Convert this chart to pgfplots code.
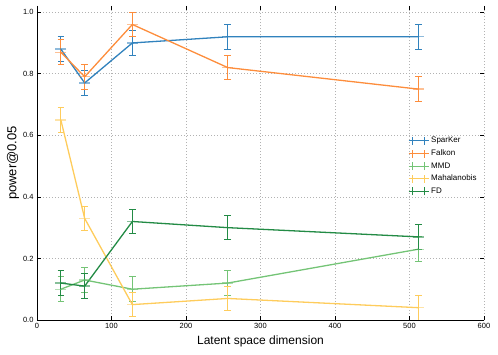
\documentclass[border=0pt]{standalone}
\usepackage{fontspec}
\setmainfont{Liberation Sans}
\usepackage{pgfplots}
\pgfplotsset{compat=1.18}
\definecolor{cSp}{RGB}{49,130,189}
\definecolor{cFa}{RGB}{253,141,60}
\definecolor{cMM}{RGB}{116,196,118}
\definecolor{cMa}{RGB}{254,204,92}
\definecolor{cFD}{RGB}{35,139,69}
\pgfplotsset{
  eb/.style={color=#1, line width=1.3pt, mark=-, mark size=5.5pt, mark options={solid, opacity=0.55},
    error bars/y dir=both, error bars/y explicit,
    error bars/error bar style={line width=1pt},
    error bars/error mark options={rotate=90, mark size=3.3pt, line width=1pt},
    legend image code/.code={
      \draw[color=#1, line width=1.3pt] (0pt,0pt) -- (20pt,0pt);
      \draw[color=#1, line width=1pt] (4pt,-4pt) -- (4pt,4pt);
      \draw[color=#1, line width=1pt] (16pt,-4pt) -- (16pt,4pt);
    }},
}
\begin{document}
\begin{tikzpicture}
\useasboundingbox (-37pt,-34pt) rectangle (461pt,320pt);
\begin{axis}[
  at={(0,0)}, anchor=south west,
  scale only axis, width=447pt, height=314pt,
  xmin=0, xmax=600, ymin=0, ymax=1.02,
  xtick={0,100,...,600}, ytick={0,0.2,0.4,0.6,0.8,1.0},
  yticklabel style={/pgf/number format/.cd,fixed,fixed zerofill,precision=1},
  xticklabel style={/pgf/number format/.cd,fixed,precision=0},
  /pgf/number format/assume math mode=true,
  ticklabel style={font=\fontsize{7.5}{9}\selectfont},
  grid=major, grid style={gray!60, line width=0.6pt, dash pattern=on 0.8pt off 2.2pt},
  tick style={black, line width=0.6pt}, major tick length=4pt,
  axis line style={draw=none},
  xlabel={Latent space dimension}, ylabel={power@0.05},
  xlabel style={font=\fontsize{12}{14}\selectfont},
  ylabel style={font=\fontsize{13}{15}\selectfont, yshift=-3pt},
  legend style={at={(0.995,0.49)}, anchor=east, draw=none, fill=none,
    font=\fontsize{8}{9}\selectfont, row sep=1.5pt},
  legend cell align=left,
]
\addplot[eb=cSp] coordinates {(32,0.88) +- (0,0.04) (64,0.77) +- (0,0.04) (128,0.90) +- (0,0.04) (256,0.92) +- (0,0.04) (512,0.92) +- (0,0.04)};
\addlegendentry{SparKer}
\addplot[eb=cFa] coordinates {(32,0.87) +- (0,0.04) (64,0.79) +- (0,0.04) (128,0.96) +- (0,0.04) (256,0.82) +- (0,0.04) (512,0.75) +- (0,0.04)};
\addlegendentry{Falkon}
\addplot[eb=cMM] coordinates {(32,0.10) +- (0,0.04) (64,0.13) +- (0,0.04) (128,0.10) +- (0,0.04) (256,0.12) +- (0,0.04) (512,0.23) +- (0,0.04)};
\addlegendentry{MMD}
\addplot[eb=cMa] coordinates {(32,0.65) +- (0,0.04) (64,0.33) +- (0,0.04) (128,0.05) +- (0,0.04) (256,0.07) +- (0,0.04) (512,0.04) +- (0,0.04)};
\addlegendentry{Mahalanobis}
\addplot[eb=cFD] coordinates {(32,0.12) +- (0,0.04) (64,0.11) +- (0,0.04) (128,0.32) +- (0,0.04) (256,0.30) +- (0,0.04) (512,0.27) +- (0,0.04)};
\addlegendentry{FD}
\draw[black, line width=0.8pt] (rel axis cs:0,1) -- (rel axis cs:0,0) -- (rel axis cs:1,0);
\end{axis}
\end{tikzpicture}
\end{document}
